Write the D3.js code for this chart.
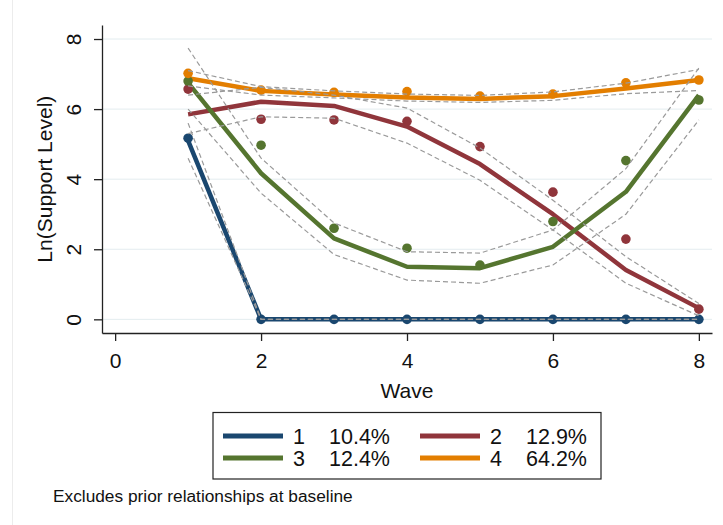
<!DOCTYPE html>
<html>
<head>
<meta charset="utf-8">
<script src="https://cdn.jsdelivr.net/npm/d3@7"></script>
<style>
  body { margin: 0; background: #fff; }
  text { font-family: "Liberation Sans", Arial, sans-serif; fill: #111; }
</style>
</head>
<body>
<div id="chart"></div>
<script>
// waves on the x axis
var waves = [1, 2, 3, 4, 5, 6, 7, 8];

// group labels and shares for the legend
var groups = ["1", "2", "3", "4"];
var shares = ["10.4%", "12.9%", "12.4%", "64.2%"];
var colors = ["#1a476f", "#90353b", "#55752f", "#e37e00"];

// fitted trajectories
var fit1 = [5.10, 0, 0, 0, 0, 0, 0, 0];
var fit2 = [5.85, 6.21, 6.09, 5.50, 4.43, 3.00, 1.41, 0.32];
var fit3 = [6.75, 4.17, 2.31, 1.50, 1.46, 2.07, 3.64, 6.40];
var fit4 = [6.88, 6.52, 6.42, 6.33, 6.29, 6.37, 6.59, 6.83];

// observed means
var obs1 = [5.17, 0, 0, 0, 0, 0, 0, 0];
var obs2 = [6.57, 5.71, 5.69, 5.65, 4.93, 3.63, 2.29, 0.29];
var obs3 = [6.80, 4.97, 2.60, 2.03, 1.55, 2.79, 4.53, 6.26];
var obs4 = [7.02, 6.54, 6.48, 6.50, 6.37, 6.43, 6.75, 6.83];

// confidence bands
var up1 = [5.60, 0, 0, 0, 0, 0, 0, 0];
var lo1 = [4.60, 0, 0, 0, 0, 0, 0, 0];
var up2 = [6.40, 6.62, 6.40, 6.03, 4.89, 3.40, 1.79, 0.45];
var lo2 = [5.30, 5.78, 5.74, 5.03, 3.97, 2.55, 1.03, 0.10];
var up3 = [7.74, 4.60, 2.75, 1.93, 1.89, 2.55, 4.30, 7.17];
var lo3 = [6.00, 3.60, 1.85, 1.12, 1.03, 1.55, 3.00, 5.69];
var up4 = [7.10, 6.64, 6.52, 6.43, 6.39, 6.49, 6.74, 7.13];
var lo4 = [6.66, 6.40, 6.32, 6.23, 6.19, 6.25, 6.44, 6.53];

var yTicks = [0, 2, 4, 6, 8];
var xTicks = [0, 2, 4, 6, 8];

var fits = [fit1, fit2, fit3, fit4];
var obs = [obs1, obs2, obs3, obs4];
var ups = [up1, up2, up3, up4];
var los = [lo1, lo2, lo3, lo4];

var svgWidth = 723;
var svgHeight = 525;

var margin = { top: 25, right: 11, bottom: 192, left: 102 };
var width = svgWidth - margin.left - margin.right;
var height = svgHeight - margin.top - margin.bottom;

var svg = d3.select("#chart")
  .append("svg")
  .attr("width", svgWidth)
  .attr("height", svgHeight);

// faint frame edge on the left
svg.append("line")
  .attr("x1", 12.5)
  .attr("x2", 12.5)
  .attr("y1", 0)
  .attr("y2", svgHeight)
  .attr("stroke", "#ececec")
  .attr("stroke-width", 1);

var chartGroup = svg.append("g")
  .attr("transform", `translate(${margin.left}, ${margin.top})`);

var xScale = d3.scaleLinear()
  .domain([-0.18, 8.18])
  .range([0, width]);

var yScale = d3.scaleLinear()
  .domain([-0.39, 8.4])
  .range([height, 0]);

// grid lines
chartGroup.selectAll(".grid")
  .data(yTicks)
  .enter()
  .append("line")
  .attr("x1", 0)
  .attr("x2", width)
  .attr("y1", d => yScale(d))
  .attr("y2", d => yScale(d))
  .attr("stroke", "#e3ecef")
  .attr("stroke-width", 1);

// axes
var bottomAxis = d3.axisBottom(xScale).tickValues(xTicks).tickSize(8).tickSizeOuter(0);
var leftAxis = d3.axisLeft(yScale).tickValues(yTicks).tickSize(8).tickSizeOuter(0);

var xAxisG = chartGroup.append("g")
  .attr("transform", `translate(0, ${height})`)
  .call(bottomAxis);
xAxisG.selectAll("text")
  .attr("font-size", 21)
  .attr("dy", null)
  .attr("y", 35);

var yAxisG = chartGroup.append("g")
  .call(leftAxis);
yAxisG.selectAll("text")
  .attr("font-size", 21)
  .attr("text-anchor", "middle")
  .attr("dy", null)
  .attr("x", null)
  .attr("y", 0)
  .attr("transform", "translate(-21, 0) rotate(-90)");

chartGroup.selectAll(".domain, .tick line")
  .attr("stroke", "#222")
  .attr("stroke-width", 1.3);

// fitted lines
var line = d3.line()
  .x((d, i) => xScale(waves[i]))
  .y(d => yScale(d));

chartGroup.selectAll(".fit")
  .data(fits)
  .enter()
  .append("path")
  .attr("d", d => line(d))
  .attr("fill", "none")
  .attr("stroke", (d, i) => colors[i])
  .attr("stroke-width", 4.5)
  .attr("stroke-linejoin", "round");

// observed dots
obs.forEach(function(series, k) {
  chartGroup.selectAll(".dot" + k)
    .data(series)
    .enter()
    .append("circle")
    .attr("cx", (d, i) => xScale(waves[i]))
    .attr("cy", d => yScale(d))
    .attr("r", 4.8)
    .attr("fill", colors[k]);
});

// confidence bands
ups.concat(los).forEach(function(series) {
  chartGroup.append("path")
    .attr("d", line(series))
    .attr("fill", "none")
    .attr("stroke", "#9a9a9a")
    .attr("stroke-width", 1.2)
    .attr("stroke-dasharray", "5,3");
});

// axis titles
chartGroup.append("text")
  .attr("x", xScale(4))
  .attr("y", height + 64.5)
  .attr("text-anchor", "middle")
  .attr("font-size", 21)
  .text("Wave");

chartGroup.append("text")
  .attr("transform", "rotate(-90)")
  .attr("x", -yScale(4))
  .attr("y", -50)
  .attr("text-anchor", "middle")
  .attr("font-size", 21)
  .text("Ln(Support Level)");

// legend
var legend = svg.append("g")
  .attr("transform", "translate(213, 412.5)");

legend.append("rect")
  .attr("x", 0)
  .attr("y", 0)
  .attr("width", 388)
  .attr("height", 66.5)
  .attr("fill", "none")
  .attr("stroke", "#222")
  .attr("stroke-width", 1.2);

var items = legend.selectAll(".item")
  .data(groups)
  .enter()
  .append("g")
  .attr("transform", (d, i) => `translate(${(i % 2) * 197}, ${23.5 + Math.floor(i / 2) * 22})`);

items.append("line")
  .attr("x1", 10)
  .attr("x2", 70)
  .attr("y1", 0)
  .attr("y2", 0)
  .attr("stroke", (d, i) => colors[i])
  .attr("stroke-width", 5);

items.append("text")
  .attr("x", 80)
  .attr("y", 7.5)
  .attr("font-size", 21.5)
  .text(d => d);

items.append("text")
  .attr("x", 116)
  .attr("y", 7.5)
  .attr("font-size", 21.5)
  .text((d, i) => shares[i]);

// note
svg.append("text")
  .attr("x", 53)
  .attr("y", 502)
  .attr("font-size", 17.3)
  .text("Excludes prior relationships at baseline");
</script>
</body>
</html>
